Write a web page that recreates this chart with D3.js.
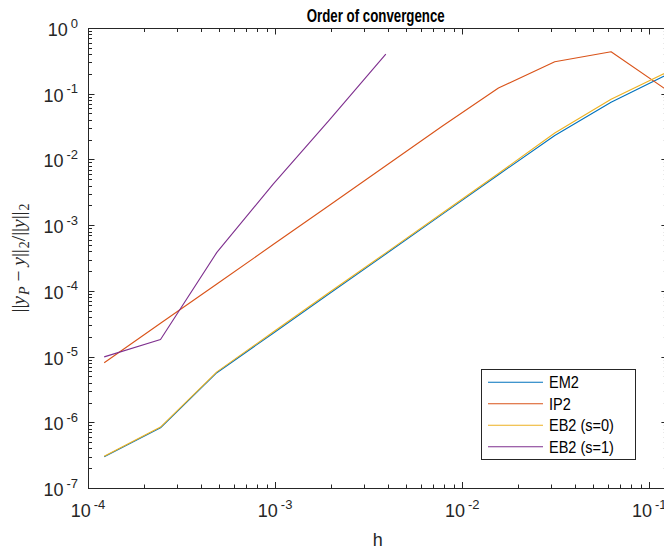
<!DOCTYPE html>
<html><head><meta charset="utf-8">
<script src="https://cdn.jsdelivr.net/npm/d3@7"></script>
<style>
html,body{margin:0;padding:0;background:#fff;}
svg{display:block;}
text{font-family:"Liberation Sans",Arial,Helvetica,sans-serif;fill:#262626;}
</style></head>
<body>
<svg id="chart" width="664" height="552"></svg>
<script>
const hValues = [1.220703125e-4, 2.44140625e-4, 4.8828125e-4, 9.765625e-4, 1.953125e-3, 3.90625e-3, 7.8125e-3, 1.5625e-2, 3.125e-2, 6.25e-2, 0.125];
const em2 = [2.99e-7, 8.26e-7, 5.68e-6, 2.27e-5, 9.12e-5, 3.63e-4, 1.46e-3, 5.85e-3, 2.31e-2, 7.40e-2, 0.196];
const ip2 = [8.05e-6, 3.21e-5, 1.27e-4, 5.07e-4, 2.01e-3, 8.02e-3, 3.19e-2, 0.122, 0.307, 0.436, 0.112];
const eb2s0 = [3.05e-7, 8.45e-7, 5.85e-6, 2.36e-5, 9.5e-5, 3.78e-4, 1.52e-3, 6.1e-3, 2.52e-2, 8.22e-2, 0.214];
const eb2s1 = [9.9e-6, 1.82e-5, 3.85e-4, 4.2e-3, 4.0e-2, 0.40];
const seriesNames = ["EM2", "IP2", "EB2 (s=0)", "EB2 (s=1)"];
const seriesColors = ["#0072BD", "#D95319", "#EDB120", "#7E2F8E"];
const xDecades = [-4, -3, -2, -1];
const yDecades = [0, -1, -2, -3, -4, -5, -6, -7];
const titleText = "Order of convergence";
const xLabelText = "h";

const svg = d3.select("#chart");
const L = 88, R = 667.4, T = 28, B = 488;
const x = d3.scaleLog().domain([1e-4, 0.125]).range([L, R]);
const y = d3.scaleLog().domain([1e-7, 1]).range([B, T]);
const axisColor = "#262626";

svg.append("defs").append("clipPath").attr("id","clip")
  .append("rect").attr("x",L).attr("y",T).attr("width",R-L).attr("height",B-T);

// lines
const series = [em2, ip2, eb2s0, eb2s1];
const line = d3.line().x(d=>x(d[0])).y(d=>y(d[1]));
const g = svg.append("g").attr("clip-path","url(#clip)");
series.forEach((vals,i)=>{
  const pts = vals.map((v,k)=>[hValues[k], v]);
  g.append("path").datum(pts).attr("d",line)
    .attr("fill","none").attr("stroke",seriesColors[i]).attr("stroke-width",1.1)
    .attr("stroke-linejoin","round");
});

// axes box
const ax = svg.append("g");
ax.append("rect").attr("x",L+0.5).attr("y",T+0.5).attr("width",R-L).attr("height",B-T)
  .attr("fill","none").attr("stroke",axisColor).attr("stroke-width",1);

// x ticks
const xMinor = [];
for (let e=-4;e<=-1;e++) for (let k=1;k<=9;k++){ const v=k*Math.pow(10,e); if (v>=1e-4 && v<=0.125) xMinor.push({v,major:k===1}); }
xMinor.forEach(t=>{
  const px = Math.round(x(t.v))+0.5;
  const len = t.major?6:3.5;
  ax.append("line").attr("x1",px).attr("x2",px).attr("y1",B).attr("y2",B-len).attr("stroke",axisColor);
  ax.append("line").attr("x1",px).attr("x2",px).attr("y1",T+0.5).attr("y2",T+0.5+len).attr("stroke",axisColor);
});
// y ticks
const yMinor = [];
for (let e=-7;e<=0;e++) for (let k=1;k<=9;k++){ const v=k*Math.pow(10,e); if (v>=1e-7 && v<=1) yMinor.push({v,major:k===1}); }
yMinor.forEach(t=>{
  const py = Math.round(y(t.v))+0.5;
  const len = t.major?6:3.5;
  ax.append("line").attr("x1",L+0.5).attr("x2",L+0.5+len).attr("y1",py).attr("y2",py).attr("stroke",axisColor);
  ax.append("line").attr("x1",R).attr("x2",R-len).attr("y1",py).attr("y2",py).attr("stroke",axisColor);
});

// tick labels
yDecades.forEach(e=>{
  const t = ax.append("text").attr("x",78).attr("y",y(Math.pow(10,e))+8)
    .attr("text-anchor","end").style("font-size","18px");
  t.append("tspan").text("10");
  t.append("tspan").attr("dy",-8.5).attr("dx",3).style("font-size","13px").text(String(e));
});
xDecades.forEach(e=>{
  const t = ax.append("text").attr("x",x(Math.pow(10,e))).attr("y",517)
    .attr("text-anchor","middle").style("font-size","18px");
  t.append("tspan").text("10");
  t.append("tspan").attr("dy",-8.5).attr("dx",3).style("font-size","13px").text(String(e));
});

// title
svg.append("text").attr("transform",`translate(${(L+R)/2-2},22) scale(0.76,1)`).attr("text-anchor","middle")
  .style("font-size","17.5px").style("font-weight","bold").style("fill","#000").text(titleText);
// x label
svg.append("text").attr("x",(L+R)/2).attr("y",546).attr("text-anchor","middle")
  .style("font-size","18px").text(xLabelText);
// y label (LaTeX-like)
const yl = svg.append("text").attr("transform",`translate(25,${(T+B)/2}) rotate(-90)`)
  .attr("text-anchor","middle").style("font-family","'Liberation Serif','Times New Roman',serif").style("font-size","19.5px");
const parts = [
  ["||",false,0],["y",true,0],["P",true,1],[" − ",false,-1],["y",true,0],["||",false,0],["2",false,1],["/||",false,-1],["y",true,0],["||",false,0],["2",false,1]
];
parts.forEach(p=>{
  const ts = yl.append("tspan").text(p[0]);
  if (p[1]) ts.style("font-style","italic");
  if (p[2]===1) ts.attr("dy",4).attr("dx",1).style("font-size","14px");
  if (p[2]===-1) ts.attr("dy",-4);
});

// legend
const lg = svg.append("g");
const lx = 481.5, ly = 369.5, lw = 154, lh = 90;
lg.append("rect").attr("x",lx).attr("y",ly).attr("width",lw).attr("height",lh)
  .attr("fill","#fff").attr("stroke",axisColor).attr("stroke-width",1);
const rowY = [382.3, 403.8, 425.3, 446.8];
seriesNames.forEach((n,i)=>{
  lg.append("line").attr("x1",488).attr("x2",543).attr("y1",rowY[i]).attr("y2",rowY[i])
    .attr("stroke",seriesColors[i]).attr("stroke-width",1.1);
  lg.append("text").attr("transform",`translate(549,${rowY[i]+6}) scale(0.88,1)`)
    .style("font-size","16.5px").style("fill","#000").text(n);
});
</script>
</body></html>
